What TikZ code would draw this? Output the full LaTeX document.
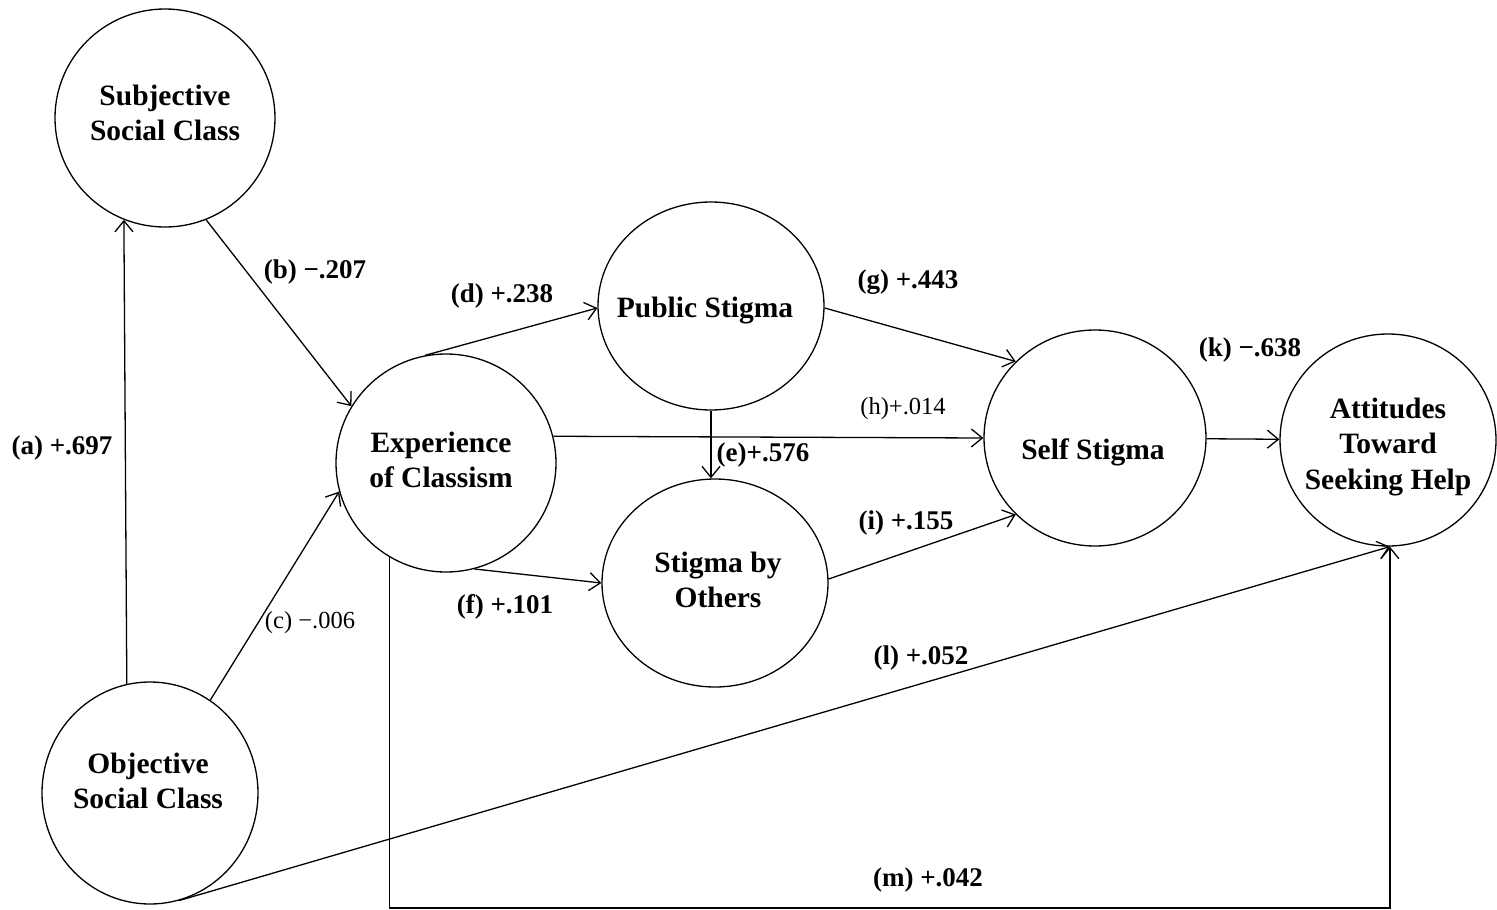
\documentclass[tikz,border=0pt]{standalone}
\usepackage{fontspec}
\setmainfont{Liberation Serif}
\usetikzlibrary{arrows.meta,shapes.geometric}

\begin{document}
\begin{tikzpicture}[x=1pt,y=-1pt,
  latent/.style={draw,ellipse,line width=1.3pt,inner sep=0pt,minimum width=220pt,minimum height=218pt},
  ltext/.style={align=center,inner sep=0pt,font=\fontsize{29.5}{35.5}\selectfont\bfseries},
  effect/.style={line width=1.3pt,-{Straight Barb[length=11pt,width=18pt]}},
  coef/.style={font=\fontsize{27}{30}\selectfont\bfseries},
  coefthin/.style={font=\fontsize{24.5}{28}\selectfont}]
\useasboundingbox (0,0) rectangle (1497,910);

%\draw[help lines] (0,0) grid[step=100] (1497,910);

% latent variables
\node[latent,label={[ltext,yshift=5pt]center:Subjective\\Social Class}] (subj) at (165,118) {};
\node[latent,minimum width=216pt,minimum height=222pt,label={[ltext,yshift=12pt,xshift=-2pt]center:Objective\\Social Class}] (obj) at (150,793) {};
\node[latent,label={[ltext,yshift=3pt,xshift=-5pt]center:Experience\\of Classism}] (exp) at (446,463) {};
\node[latent,minimum width=226pt,minimum height=208pt,label={[ltext,yshift=-5pt,xshift=-6pt]center:Public Stigma}] (pub) at (711,306) {};
\node[latent,minimum width=226pt,minimum height=208pt,label={[ltext,yshift=3pt,xshift=3pt]center:Stigma by\\Others}] (oth) at (715,583) {};
\node[latent,minimum width=222pt,minimum height=216pt,label={[ltext,yshift=-14pt,xshift=-2pt]center:Self Stigma}] (self) at (1095,438) {};
\node[latent,minimum width=216pt,minimum height=212pt,label={[ltext,yshift=-7pt]center:Attitudes\\Toward\\Seeking Help}] (att) at (1388,440) {};

% paths
\draw[effect] (obj.102) -- (subj.-112);
\draw[effect] (subj.-68) -- (exp.149);
\draw[effect] (obj.57) -- (exp.-165);
\draw[effect] (exp.101) -- (pub.181);
\draw[effect] (pub.south) -- (pub.south |- oth.north);
\draw[effect] (exp.-75) -- (oth.180);
\draw[effect] (pub.-1) -- (self.136);
\draw[effect] (exp.14) -- (self.180);
\draw[effect] (oth.2) -- (self.-136);
\draw[effect] (self) -- (att);
\draw[effect] (obj.-75) -- (att.-89);
\path (att.-89) coordinate (attb);
\coordinate (floor) at (0,908);
\draw[effect] (exp.-121) |- (floor -| attb) -- (attb);

% coefficients
\node[coef] (ca) at (62,448) {(a) +.697};
\node[coef] (cb) at (315,272) {(b) −.207};
\node[coefthin] (cc) at (310,623) {(c) −.006};
\node[coef] (cd) at (502,296) {(d) +.238};
\node[coef] (ce) at (763,455) {(e)+.576};
\node[coef] (cf) at (505,607) {(f) +.101};
\node[coef] (cg) at (908,282) {(g) +.443};
\node[coefthin] (ch) at (903,409) {(h)+.014};
\node[coef] (ci) at (906,523) {(i) +.155};
\node[coef] (ck) at (1250,350) {(k) −.638};
\node[coef] (cl) at (921,658) {(l) +.052};
\node[coef] (cm) at (928,880) {(m) +.042};

\end{tikzpicture}
\end{document}
